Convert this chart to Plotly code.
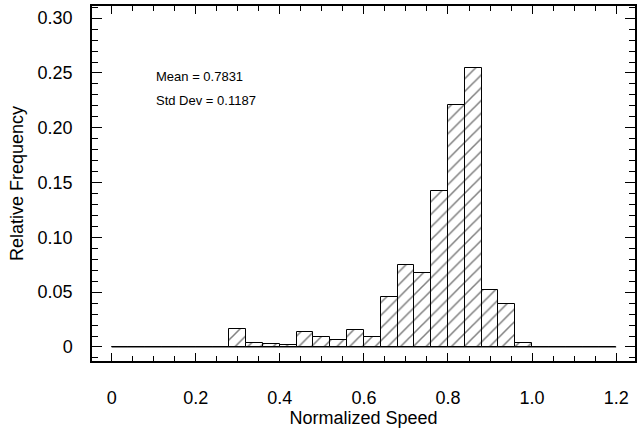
import plotly.graph_objects as go

# Histogram data: bin edges of width 0.04 from 0 to 1.2
bin_width = 0.04
bin_starts = [round(i * bin_width, 2) for i in range(30)]
rel_freq = [0, 0, 0, 0, 0, 0, 0,          # 0.00 - 0.28
            0.016, 0.004, 0.003, 0.002,   # 0.28 - 0.44
            0.014, 0.009, 0.006, 0.0158, 0.009,  # 0.44 - 0.64
            0.0456, 0.0745, 0.0678, 0.1423, 0.2208, 0.2546,  # 0.64 - 0.88
            0.0523, 0.039, 0.0034,        # 0.88 - 1.00
            0, 0, 0, 0, 0]                # 1.00 - 1.20
bin_centers = [s + bin_width / 2 for s in bin_starts]

x_tickvals = [0, 0.2, 0.4, 0.6, 0.8, 1.0, 1.2]
x_ticktext = ["0", "0.2", "0.4", "0.6", "0.8", "1.0", "1.2"]
y_tickvals = [0, 0.05, 0.10, 0.15, 0.20, 0.25, 0.30]
y_ticktext = ["0", "0.05", "0.10", "0.15", "0.20", "0.25", "0.30"]

stats_text = ["Mean = 0.7831", "Std Dev = 0.1187"]

FONT = "Liberation Sans, Arial, Helvetica, sans-serif"

fig = go.Figure()

# baseline for the empty bins
fig.add_trace(go.Scatter(
    x=[bin_starts[0], bin_starts[-1] + bin_width], y=[0, 0],
    mode="lines", line=dict(color="black", width=1),
    showlegend=False, hoverinfo="skip"))

fig.add_trace(go.Bar(
    x=bin_centers, y=rel_freq, width=bin_width,
    marker=dict(color="white",
                line=dict(color="black", width=1),
                pattern=dict(shape="/", fgcolor="black", bgcolor="white",
                             size=9, solidity=0.17)),
    showlegend=False))

axis_common = dict(
    showline=True, linecolor="black", linewidth=1.5, mirror="allticks",
    ticks="inside", tickcolor="black", tickwidth=1,
    showgrid=False, zeroline=False,
    tickfont=dict(family=FONT, size=18, color="black"),
)

fig.update_xaxes(
    range=[-0.0467, 1.2448], tickmode="array",
    tickvals=x_tickvals, ticktext=x_ticktext, ticklen=8,
    minor=dict(ticks="inside", dtick=0.05, tick0=0, ticklen=5,
               tickcolor="black", tickwidth=1),
    ticklabelstandoff=20,
    title=dict(text="Normalized Speed", standoff=1,
               font=dict(family=FONT, size=18, color="black")),
    **axis_common)

fig.update_yaxes(
    range=[-0.0128, 0.3111], tickmode="array",
    tickvals=y_tickvals, ticktext=y_ticktext, ticklen=10,
    minor=dict(ticks="inside", dtick=0.01, tick0=0, ticklen=6,
               tickcolor="black", tickwidth=1),
    ticklabelstandoff=14,
    title=dict(text="Relative Frequency", standoff=9,
               font=dict(family=FONT, size=18, color="black")),
    **axis_common)

for i, t in enumerate(stats_text):
    fig.add_annotation(
        x=0.100, y=0.247 - i * 0.0219, xref="x", yref="y",
        text=t, showarrow=False, xanchor="left", yanchor="middle",
        font=dict(family=FONT, size=13, color="black"))

fig.update_layout(
    width=637, height=429,
    margin=dict(l=92, r=0, t=6, b=68),
    paper_bgcolor="white", plot_bgcolor="white",
    bargap=0,
)

fig.write_html("out.html")
